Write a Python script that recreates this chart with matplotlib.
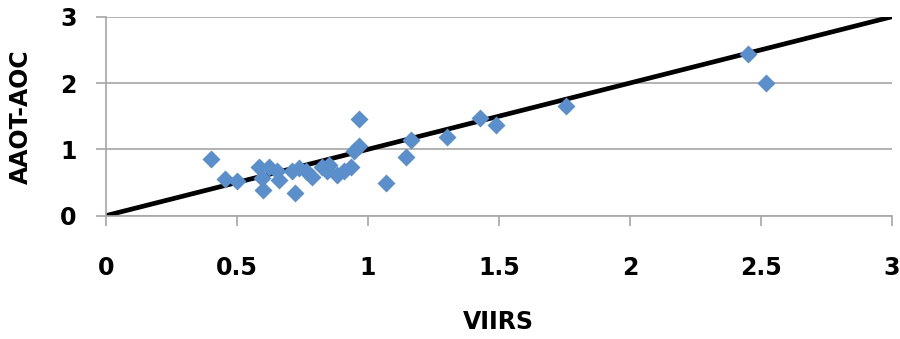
import matplotlib.pyplot as plt

# VIIRS vs AAOT-AOC match-ups
viirs = [0.40, 0.455, 0.50, 0.585, 0.598, 0.602, 0.623, 0.655, 0.661,
         0.712, 0.723, 0.738, 0.763, 0.789, 0.827, 0.846, 0.852, 0.884,
         0.91, 0.935, 0.948, 0.967, 0.967, 1.071, 1.145, 1.164, 1.304,
         1.429, 1.489, 1.758, 2.452, 2.518]
aaot_aoc = [0.86, 0.55, 0.53, 0.73, 0.57, 0.38, 0.74, 0.67, 0.54,
            0.67, 0.34, 0.72, 0.68, 0.59, 0.74, 0.67, 0.77, 0.62,
            0.68, 0.74, 0.98, 1.05, 1.46, 0.50, 0.89, 1.14, 1.19,
            1.47, 1.36, 1.65, 2.44, 2.00]
one_to_one = [0, 3]
x_ticks = [0, 0.5, 1, 1.5, 2, 2.5, 3]
y_ticks = [0, 1, 2, 3]

grey = "#a6a6a6"
font = dict(family="DejaVu Sans", weight="bold", size=17)

fig = plt.figure(figsize=(9, 3.39), dpi=100)
ax = fig.add_axes([0.1174, 0.3637, 0.8737, 0.587])

ax.plot(one_to_one, one_to_one, color="black", lw=3.4, solid_capstyle="butt", zorder=2)
ax.plot(viirs, aaot_aoc, "D", ms=9.5, color="#5a8fcb", mec="none", zorder=3)

ax.set_xlim(0, 3)
ax.set_ylim(0, 3)
ax.set_xticks(x_ticks)
ax.set_yticks(y_ticks)
ax.set_xticklabels([f"{t:g}" for t in x_ticks], **font)
ax.set_yticklabels([f"{t:g}" for t in y_ticks], **font)

ax.yaxis.grid(True, color=grey, lw=1.2)
ax.set_axisbelow(True)
for side in ("top", "right"):
    ax.spines[side].set_visible(False)
for side in ("left", "bottom"):
    ax.spines[side].set_color(grey)
    ax.spines[side].set_linewidth(1.2)
ax.tick_params(axis="x", direction="out", length=7, width=1.2, color=grey, pad=22)
ax.tick_params(axis="y", direction="out", length=7, width=1.2, color=grey, pad=14)

ax.set_xlabel("VIIRS", va="center", **font)
ax.set_ylabel("AAOT-AOC", va="center", **font)
ax.xaxis.set_label_coords(0.5, -0.533)
ax.yaxis.set_label_coords(-0.108, 0.5)

fig.savefig("out.png", dpi=100)
plt.close(fig)
